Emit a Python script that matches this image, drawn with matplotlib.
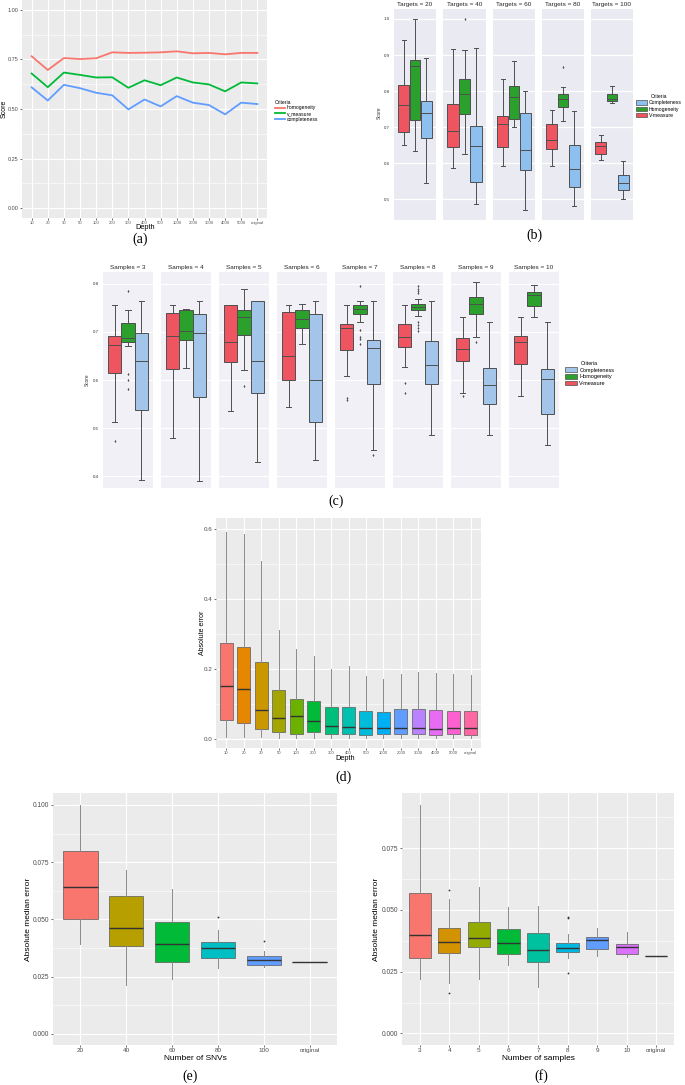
import matplotlib
matplotlib.use('Agg')
import matplotlib.pyplot as plt
from matplotlib.patches import Patch

# ---- data ----
depth_labels = ['10', '20', '30', '50', '100', '200', '300', '400', '500',
                '1000', '2000', '3000', '4000', '5000', 'original']

# (a) clustering scores by depth
a_homogeneity = [0.766, 0.697, 0.757, 0.752, 0.756, 0.786, 0.783, 0.784,
                 0.786, 0.791, 0.781, 0.783, 0.776, 0.783, 0.783]
a_v_measure = [0.679, 0.610, 0.684, 0.672, 0.659, 0.660, 0.607, 0.645,
               0.620, 0.659, 0.634, 0.624, 0.589, 0.634, 0.629]
a_completeness = [0.609, 0.543, 0.622, 0.605, 0.582, 0.569, 0.498, 0.548,
                  0.513, 0.565, 0.532, 0.520, 0.473, 0.532, 0.525]

# (b) scores by number of targets, box stats = (whislo, q1, med, q3, whishi)
targets = [20, 40, 60, 80, 100]
b_vmeasure = [(0.651, 0.686, 0.762, 0.818, 0.942),
              (0.587, 0.644, 0.689, 0.763, 0.917),
              (0.592, 0.644, 0.708, 0.732, 0.835),
              (0.592, 0.639, 0.665, 0.708, 0.747),
              (0.608, 0.627, 0.649, 0.658, 0.677)]
b_homogeneity = [(0.635, 0.719, 0.870, 0.885, 1.000),
                 (0.626, 0.737, 0.791, 0.834, 0.914),
                 (0.700, 0.722, 0.785, 0.813, 0.884),
                 (0.716, 0.757, 0.778, 0.792, 0.811),
                 (0.767, 0.774, 0.778, 0.791, 0.815)]
b_completeness = [(0.544, 0.669, 0.738, 0.774, 0.891),
                  (0.487, 0.547, 0.648, 0.703, 0.919),
                  (0.470, 0.580, 0.638, 0.739, 0.800),
                  (0.481, 0.533, 0.583, 0.651, 0.744),
                  (0.500, 0.526, 0.545, 0.567, 0.605)]
b_vmeasure_out = [[], [], [], [], []]
b_homogeneity_out = [[], [1.0], [], [0.868], []]
b_completeness_out = [[], [], [], [], []]

# (c) scores by number of samples
samples = [3, 4, 5, 6, 7, 8, 9, 10]
c_vmeasure = [(0.512, 0.615, 0.672, 0.691, 0.756),
              (0.480, 0.623, 0.691, 0.740, 0.755),
              (0.535, 0.637, 0.679, 0.755, 0.755),
              (0.543, 0.599, 0.649, 0.741, 0.755),
              (0.608, 0.662, 0.707, 0.717, 0.755),
              (0.627, 0.669, 0.689, 0.716, 0.755),
              (0.572, 0.639, 0.664, 0.687, 0.731),
              (0.567, 0.633, 0.679, 0.691, 0.731)]
c_homogeneity = [(0.671, 0.679, 0.687, 0.719, 0.745),
                 (0.624, 0.684, 0.701, 0.745, 0.747),
                 (0.620, 0.694, 0.730, 0.745, 0.790),
                 (0.675, 0.707, 0.727, 0.745, 0.757),
                 (0.720, 0.738, 0.748, 0.755, 0.764),
                 (0.733, 0.745, 0.752, 0.757, 0.769),
                 (0.689, 0.738, 0.757, 0.772, 0.804),
                 (0.730, 0.753, 0.776, 0.782, 0.798)]
c_completeness = [(0.392, 0.537, 0.640, 0.698, 0.765),
                  (0.391, 0.565, 0.698, 0.737, 0.765),
                  (0.430, 0.572, 0.640, 0.765, 0.765),
                  (0.433, 0.512, 0.600, 0.737, 0.765),
                  (0.454, 0.591, 0.666, 0.684, 0.765),
                  (0.485, 0.591, 0.632, 0.681, 0.765),
                  (0.486, 0.551, 0.589, 0.624, 0.720),
                  (0.464, 0.529, 0.603, 0.623, 0.720)]
c_vmeasure_out = [[0.473], [], [], [], [0.563, 0.558], [0.593, 0.574], [0.567], []]
c_homogeneity_out = [[0.785, 0.612, 0.599, 0.582], [], [0.588], [],
                     [0.795, 0.704, 0.689, 0.685, 0.675],
                     [0.796, 0.790, 0.785, 0.781, 0.721, 0.714, 0.707, 0.702],
                     [0.678], []]
c_completeness_out = [[], [], [], [], [0.444], [], [], []]

# (d) absolute error by depth
d_lo = [0.005, 0.003, 0.003, 0.002, 0.002, 0.002, 0.002, 0.002, 0.002,
        0.002, 0.002, 0.002, 0.002, 0.002, 0.002]
d_q1 = [0.052, 0.044, 0.027, 0.019, 0.014, 0.018, 0.014, 0.012, 0.010,
        0.012, 0.013, 0.013, 0.010, 0.012, 0.010]
d_med = [0.151, 0.142, 0.082, 0.058, 0.063, 0.051, 0.036, 0.033, 0.030,
         0.029, 0.030, 0.030, 0.027, 0.030, 0.029]
d_q3 = [0.273, 0.262, 0.219, 0.140, 0.113, 0.108, 0.091, 0.090, 0.079,
        0.076, 0.083, 0.084, 0.082, 0.080, 0.079]
d_hi = [0.590, 0.585, 0.507, 0.311, 0.256, 0.237, 0.200, 0.207, 0.180,
        0.171, 0.185, 0.190, 0.187, 0.183, 0.181]

# (e) absolute median error by number of SNVs
snv_labels = ['20', '40', '60', '80', '100', 'original']
e_lo = [0.0394, 0.0213, 0.0239, 0.0286, 0.0293, 0.0312]
e_q1 = [0.0500, 0.0385, 0.0312, 0.0332, 0.0300, 0.0312]
e_med = [0.0640, 0.0461, 0.0394, 0.0373, 0.0322, 0.0312]
e_q3 = [0.0797, 0.0601, 0.0488, 0.0402, 0.0341, 0.0312]
e_hi = [0.1000, 0.0714, 0.0633, 0.0453, 0.0360, 0.0312]
e_out = [[], [], [], [0.0510], [0.0405], []]

# (f) absolute median error by number of samples
sample_labels = ['3', '4', '5', '6', '7', '8', '9', '10', 'original']
f_lo = [0.0220, 0.0203, 0.0222, 0.0277, 0.0189, 0.0304, 0.0315, 0.0308, 0.0312]
f_q1 = [0.0307, 0.0324, 0.0349, 0.0323, 0.0291, 0.0331, 0.0343, 0.0323, 0.0312]
f_med = [0.0397, 0.0369, 0.0385, 0.0365, 0.0339, 0.0345, 0.0377, 0.0349, 0.0312]
f_q3 = [0.0569, 0.0427, 0.0450, 0.0422, 0.0408, 0.0365, 0.0391, 0.0362, 0.0312]
f_hi = [0.0926, 0.0546, 0.0595, 0.0514, 0.0516, 0.0403, 0.0427, 0.0411, 0.0312]
f_out = [[], [0.0581, 0.0162], [], [], [], [0.0473, 0.0466, 0.0243], [], [], []]

# ggplot default hue palettes
hue15 = ['#F8766D', '#E58700', '#C99800', '#A3A500', '#6BB100', '#00BA38',
         '#00BF7D', '#00C0AF', '#00BCD8', '#00B0F6', '#619CFF', '#B983FF',
         '#E76BF3', '#FD61D1', '#FF67A4']
hue6 = ['#F8766D', '#B79F00', '#00BA38', '#00BFC4', '#619CFF', '#F564E3']
hue9 = ['#F8766D', '#D39200', '#93AA00', '#00BA38', '#00C19F', '#00B9E3',
        '#619CFF', '#DB72FB', '#FF61C3']

RED, GREEN = '#EE5560', '#2CA02C'
BLUE_B, BLUE_C = '#8DBFEF', '#A2C5E9'

W, H = 685, 1085
plt.rcParams['font.family'] = ['Liberation Sans', 'DejaVu Sans']
fig = plt.figure(figsize=(W / 100, H / 100), dpi=100)


def rect(l, t, r, b):
    return [l / W, 1 - b / H, (r - l) / W, (b - t) / H]


def ptext(x, y, s, **kw):
    kw.setdefault('ha', 'center')
    kw.setdefault('va', 'center')
    fig.text(x / W, 1 - y / H, s, **kw)


def gg_axes(box, ylim, yticks, ylabels, xlabels, xsize, ysize):
    ax = fig.add_axes(rect(*box))
    ax.set_facecolor('#EBEBEB')
    for s in ax.spines.values():
        s.set_visible(False)
    ax.set_xlim(-0.6, len(xlabels) - 0.4)
    ax.set_ylim(*ylim)
    ax.set_xticks(range(len(xlabels)))
    ax.set_xticklabels(xlabels)
    ax.set_yticks(yticks)
    ax.set_yticklabels(ylabels)
    step = yticks[1] - yticks[0]
    minor = [t + step / 2 for t in yticks if t + step / 2 < ylim[1]]
    ax.set_yticks(minor, minor=True)
    ax.grid(True, which='major', color='white', lw=0.8)
    ax.grid(True, which='minor', axis='y', color='white', lw=0.4)
    ax.set_axisbelow(True)
    ax.tick_params(which='major', length=1.6, width=0.5, color='#333333',
                   labelcolor='#4D4D4D', pad=1.0)
    ax.tick_params(axis='x', labelsize=xsize, pad=0.6)
    ax.tick_params(axis='y', labelsize=ysize)
    ax.tick_params(which='minor', length=0)
    return ax


def gg_boxes(ax, lo, q1, med, q3, hi, outs, colors):
    stats = []
    for i in range(len(med)):
        stats.append(dict(whislo=lo[i], q1=q1[i], med=med[i], q3=q3[i],
                          whishi=hi[i], fliers=outs[i] if outs else []))
    bp = ax.bxp(stats, positions=range(len(med)), widths=0.75,
                patch_artist=True, showcaps=False, manage_ticks=False,
                boxprops=dict(edgecolor='#5a5a5a', linewidth=0.5),
                whiskerprops=dict(color='#8a8a8a', linewidth=0.7),
                medianprops=dict(color='#333333', linewidth=1.0),
                flierprops=dict(marker='o', markersize=1.3,
                                markerfacecolor='#333333',
                                markeredgecolor='none'))
    for patch, c in zip(bp['boxes'], colors):
        patch.set_facecolor(c)


def sns_facets(edges, top, bottom, titles, groups, ylim, yticks, bg):
    axes = []
    for i, (l, r) in enumerate(edges):
        ax = fig.add_axes(rect(l, top, r, bottom))
        ax.set_facecolor(bg)
        for s in ax.spines.values():
            s.set_visible(False)
        w = 0.8 / 3
        for j, (stats, outs, color) in enumerate(groups):
            lo, q1, md, q3, hi = stats[i]
            st = dict(whislo=lo, q1=q1, med=md, q3=q3, whishi=hi, fliers=outs[i])
            ax.bxp([st], positions=[(j - 1) * w], widths=[w * 0.98],
                   capwidths=[w * 0.4], patch_artist=True, manage_ticks=False,
                   boxprops=dict(facecolor=color, edgecolor='#4f4f4f', linewidth=0.7),
                   whiskerprops=dict(color='#4f4f4f', linewidth=0.7),
                   capprops=dict(color='#4f4f4f', linewidth=0.7),
                   medianprops=dict(color='#4f4f4f', linewidth=0.7),
                   flierprops=dict(marker='d', markersize=1.6,
                                   markerfacecolor='#4f4f4f',
                                   markeredgecolor='none'))
        ax.set_xlim(-0.5, 0.5)
        ax.set_ylim(*ylim)
        ax.set_xticks([])
        ax.set_yticks(yticks)
        ax.set_yticklabels(['%.1f' % t for t in yticks])
        ax.grid(True, axis='y', color='white', lw=0.9)
        ax.set_axisbelow(True)
        ax.tick_params(axis='y', length=0, labelsize=3.2, pad=3,
                       labelcolor='#333333', labelleft=(i == 0))
        ax.set_title(titles[i], fontsize=4.6, pad=2.5, color='#262626')
        axes.append(ax)
    return axes


# ---- (a) line chart ----
ax = gg_axes((22, 0, 267, 218), (-0.05, 1.05), [0, 0.25, 0.5, 0.75, 1.0],
             ['0.00', '0.25', '0.50', '0.75', '1.00'], depth_labels, 3.0, 4.0)
x = range(len(depth_labels))
l1, = ax.plot(x, a_homogeneity, color='#F8766D', lw=1.3)
l2, = ax.plot(x, a_v_measure, color='#00BA38', lw=1.3)
l3, = ax.plot(x, a_completeness, color='#619CFF', lw=1.3)
ptext(145, 228, 'Depth', fontsize=5.3)
ptext(4, 109, 'Score', fontsize=5.0, rotation=90)
fig.legend([l1, l2, l3], ['homogeneity', 'v_measure', 'completeness'],
           loc='upper left', bbox_to_anchor=(271 / W, 1 - 96 / H),
           frameon=False, title='Criteria', fontsize=3.6, title_fontsize=3.6,
           alignment='left', handlelength=2.0, handletextpad=0.5,
           labelspacing=0.15, borderpad=0.2)
ptext(140, 239, '(a)', fontsize=10, family='Liberation Serif')

# ---- (b) facets by targets ----
b_edges = [(394, 436), (443, 486), (493, 535), (542, 584), (591, 633)]
b_groups = [(b_vmeasure, b_vmeasure_out, RED),
            (b_homogeneity, b_homogeneity_out, GREEN),
            (b_completeness, b_completeness_out, BLUE_B)]
sns_facets(b_edges, 9, 220, ['Targets = %d' % t for t in targets], b_groups,
           (0.4427, 1.0277), [0.5, 0.6, 0.7, 0.8, 0.9, 1.0], '#EAEAF2')
ptext(379, 113, 'Score', fontsize=3.4, rotation=90, color='#333333')
fig.legend([Patch(facecolor=BLUE_B, edgecolor='#4f4f4f', lw=0.5),
            Patch(facecolor=GREEN, edgecolor='#4f4f4f', lw=0.5),
            Patch(facecolor=RED, edgecolor='#4f4f4f', lw=0.5)],
           ['Completeness', 'Homogeneity', 'V-measure'],
           loc='upper left', bbox_to_anchor=(633 / W, 1 - 91 / H),
           frameon=False, title='Criteria', fontsize=3.7, title_fontsize=3.6,
           handlelength=2.2, handleheight=0.9, handletextpad=0.3,
           labelspacing=0.25, borderpad=0.1)
ptext(534, 235, '(b)', fontsize=10, family='Liberation Serif')

# ---- (c) facets by samples ----
c_edges = [(103, 153), (161, 211), (219, 269), (277, 327),
           (335, 385), (393, 443), (451, 501), (509, 559)]
c_groups = [(c_vmeasure, c_vmeasure_out, RED),
            (c_homogeneity, c_homogeneity_out, GREEN),
            (c_completeness, c_completeness_out, BLUE_C)]
sns_facets(c_edges, 272, 488, ['Samples = %d' % s for s in samples], c_groups,
           (0.3757, 0.8243), [0.4, 0.5, 0.6, 0.7, 0.8], '#F0F0F6')
ptext(87, 380, 'Score', fontsize=3.4, rotation=90, color='#333333')
fig.legend([Patch(facecolor=BLUE_C, edgecolor='#4f4f4f', lw=0.5),
            Patch(facecolor=GREEN, edgecolor='#4f4f4f', lw=0.5),
            Patch(facecolor=RED, edgecolor='#4f4f4f', lw=0.5)],
           ['Completeness', 'Homogeneity', 'V-measure'],
           loc='upper left', bbox_to_anchor=(561 / W, 1 - 357 / H),
           frameon=False, title='Criteria', fontsize=4.0, title_fontsize=3.8,
           handlelength=2.2, handleheight=0.9, handletextpad=0.4,
           labelspacing=0.25, borderpad=0.2)
ptext(336, 501, '(c)', fontsize=10, family='Liberation Serif')

# ---- (d) absolute error by depth ----
ax = gg_axes((216, 518, 481, 748), (-0.027, 0.63), [0, 0.2, 0.4, 0.6],
             ['0.0', '0.2', '0.4', '0.6'], depth_labels, 3.0, 4.5)
gg_boxes(ax, d_lo, d_q1, d_med, d_q3, d_hi, None, hue15)
ptext(345, 759, 'Depth', fontsize=5.3)
ptext(202, 633, 'Absolute error', fontsize=5.0, rotation=90)
ptext(343, 777, '(d)', fontsize=10, family='Liberation Serif')

# ---- (e) median error by number of SNVs ----
ax = gg_axes((53, 793, 337, 1045), (-0.0049, 0.1052),
             [0, 0.025, 0.05, 0.075, 0.1],
             ['0.000', '0.025', '0.050', '0.075', '0.100'], snv_labels, 4.6, 4.8)
gg_boxes(ax, e_lo, e_q1, e_med, e_q3, e_hi, e_out, hue6)
ptext(195, 1059, 'Number of SNVs', fontsize=6.0)
ptext(29, 919, 'Absolute median error', fontsize=6.0, rotation=90)
ptext(190, 1076, '(e)', fontsize=10, family='Liberation Serif')

# ---- (f) median error by number of samples ----
ax = gg_axes((402, 793, 674, 1045), (-0.0047, 0.0974),
             [0, 0.025, 0.05, 0.075],
             ['0.000', '0.025', '0.050', '0.075'], sample_labels, 4.6, 4.8)
gg_boxes(ax, f_lo, f_q1, f_med, f_q3, f_hi, f_out, hue9)
ptext(538, 1059, 'Number of samples', fontsize=6.0)
ptext(377, 919, 'Absolute median error', fontsize=6.0, rotation=90)
ptext(541, 1076, '(f)', fontsize=10, family='Liberation Serif')

fig.savefig('out.png', dpi=100)
